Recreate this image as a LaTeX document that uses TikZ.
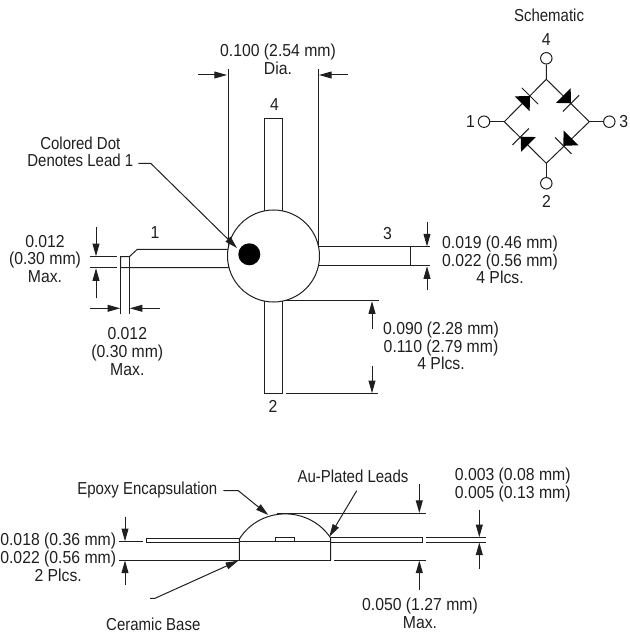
\documentclass[tikz,border=0pt]{standalone}
\usepackage{fontspec}
\setmainfont[FakeStretch=0.91]{Liberation Sans}
\newfontfamily\wordfont[FakeStretch=0.865]{Liberation Sans}
\usepackage{tikz}
\usetikzlibrary{arrows.meta}
\definecolor{inkdark}{gray}{.12}
\newcommand{\leadwidth}{0.75pt}
\newcommand{\termsize}{8.6pt}
\tikzset{
    common/.style={draw=inkdark, line width=\leadwidth},
    dimarrow/.style={common, -{Triangle[length=9.5pt, width=5.2pt]}},
    extline/.style={common},
    label/.style={text=inkdark, inner sep=0pt, align=center, font=\fontsize{13}{13.3}\selectfont},
    wordlabel/.style={label, font=\wordfont\fontsize{13}{13.3}\selectfont},
    term/.style={common, circle, fill=white, inner sep=0pt, minimum size=\termsize}
}
\begin{document}
\begin{tikzpicture}[x=0.75pt, y=-0.75pt]
      \useasboundingbox (0,0) rectangle (629,634);

      % top view
      \draw[common] (264,211) -- (264,118.3) -- (282.7,118.3) -- (282.7,211);
      \draw[common] (264,300) -- (264,393.7) -- (282.7,393.7) -- (282.7,300);
      \draw[common] (316,247) -- (410.7,247) -- (410.7,265.7) -- (316,265.7);
      \draw[common] (232,249.3) -- (137.3,249.3) -- (129.3,256.7) -- (120.7,256.7) -- (120.7,267.7) -- (232,267.7);
      \draw[extline] (228,69) -- (228,256);
      \draw[extline] (318,69) -- (318,256);
      \draw[common, fill=white] (273.5,256) circle [radius=46];
      \fill[black] (249.3,254.3) circle [radius=11];

      \node[label] (pin4) at (274.5,105) {4};
      \node[label] (pin3) at (387.6,234) {3};
      \node[label] (pin2) at (273,406) {2};
      \node[label] (pin1) at (155,233) {1};

      % diameter
      \node[label] (dia) at (278,59) {0.100 (2.54 mm)\\Dia.};
      \draw[dimarrow] (198,75) -- (227,75);
      \draw[dimarrow] (348,75) -- (319,75);

      % colored dot
      \node[wordlabel] (dot) at (80.3,151.7) {Colored Dot\\Denotes Lead 1};
      \coordinate (dot-elbow) at (138.3,163.3);
      \coordinate (dot-bend) at (150.7,163.3);
      \coordinate (dot-tip) at (237,248);
      \draw[dimarrow] (dot-elbow) -- (dot-bend) -- (dot-tip);

      % lead 3 thickness
      \draw[extline] (410.7,247) -- (430,247);
      \draw[extline] (410.7,265.7) -- (430,265.7);
      \draw[dimarrow] (427,222) -- (427,246.5);
      \draw[dimarrow] (427,290) -- (427,266.2);
      \node[label] (thick) at (500,260) {0.019 (0.46 mm)\\0.022 (0.56 mm)\\4 Plcs.};

      % lead 2 length
      \draw[extline] (286,300.7) -- (379,300.7);
      \draw[extline] (286,393.7) -- (378,393.7);
      \draw[dimarrow] (372,329) -- (372,301.2);
      \draw[dimarrow] (372,366) -- (372,393.2);
      \node[label] (length) at (441,346) {0.090 (2.28 mm)\\0.110 (2.79 mm)\\4 Plcs.};

      % lead 1 tip
      \draw[extline] (90,256.7) -- (116.7,256.7);
      \draw[extline] (90,267.7) -- (116.7,267.7);
      \draw[extline] (120.7,256.7) -- (120.7,314);
      \draw[extline] (129.3,256.7) -- (129.3,314);
      \draw[dimarrow] (96,226.7) -- (96,256.2);
      \draw[dimarrow] (96,298.3) -- (96,268.2);
      \draw[dimarrow] (90,308.3) -- (120.2,308.3);
      \draw[dimarrow] (160,308.3) -- (129.8,308.3);
      \node[label] (tip-v) at (45,259) {0.012\\(0.30 mm)\\Max.};
      \node[label] (tip-h) at (127.3,351.5) {0.012\\(0.30 mm)\\Max.};

      % schematic
      \node[wordlabel] (sch) at (549,15.7) {Schematic};
      \node[label] (s4) at (546.3,40) {4};
      \node[label] (s1) at (470.5,122) {1};
      \node[label] (s3) at (623.7,122) {3};
      \node[label] (s2) at (546.5,201) {2};
      \node[term] (t4) at (546.3,58.3) {};
      \node[term] (t3) at (609.3,121.7) {};
      \node[term] (t2) at (546.3,183.3) {};
      \node[term] (t1) at (484,121.7) {};
      \coordinate (top) at (546.3,79.3);
      \coordinate (right) at (589.3,121.7);
      \coordinate (bottom) at (546.3,163.3);
      \coordinate (left) at (504.3,121.7);
      \draw[common] (t4) -- (top) -- (right) -- (bottom) -- (left) -- (top);
      \draw[common] (t3) -- (right);
      \draw[common] (t2) -- (bottom);
      \draw[common] (t1) -- (left);
      \foreach \barx/\bary/\ang in {530/96/45, 571/103.3/-45, 563.3/145.7/-135, 520.7/136.7/135} {
          \begin{scope}[shift={(\barx,\bary)}, rotate=\ang]
              \fill[black] (0,0) -- (-11,10.5) -- (-11,-10.5) -- cycle;
              \draw[common] (0,-11.5) -- (0,11.5);
          \end{scope}
      }

      % side view
      \draw[common] (146.7,538.3) rectangle (239,542);
      \draw[common] (331,537.7) -- (422.3,537.7) -- (422.3,542) -- (331,542);
      \draw[common] (239.3,560) -- (239.3,539) .. controls (260.5,505.7) and (309,505.7) .. (330.7,538) -- (330.7,560);
      \draw[common] (239.3,541.7) -- (330.7,541.7);
      \draw[common] (275.3,537.7) rectangle (294,541.7);

      \draw[extline] (119.3,541.7) -- (143,541.7);
      \draw[extline] (119.3,560) -- (330.7,560);
      \draw[extline] (334,560) -- (425.7,560);
      \draw[extline] (276.7,513.5) -- (425.7,513.5);
      \draw[extline] (425.7,537.7) -- (485.7,537.7);
      \draw[extline] (425.7,542) -- (485.7,542);
      \draw[dimarrow] (125,516.7) -- (125,541.2);
      \draw[dimarrow] (125,585) -- (125,560.5);
      \draw[dimarrow] (419.3,484) -- (419.3,513);
      \draw[dimarrow] (419.3,590) -- (419.3,560.5);
      \draw[dimarrow] (479.3,510) -- (479.3,537.2);
      \draw[dimarrow] (479.3,569) -- (479.3,542.5);

      \node[wordlabel] (epoxy) at (147.3,490) {Epoxy Encapsulation};
      \node[wordlabel] (ceramic) at (153.3,624) {Ceramic Base};
      \node[wordlabel] (plated) at (353,476.7) {Au-Plated Leads};
      \node[label] (height) at (58.2,557.5) {0.018 (0.36 mm)\\0.022 (0.56 mm)\\2 Plcs.};
      \node[label] (foil) at (512.7,485) {0.003 (0.08 mm)\\0.005 (0.13 mm)};
      \node[label] (base) at (420,613.5) {0.050 (1.27 mm)\\Max.};
      \coordinate (epoxy-a) at (223.3,490.7);
      \coordinate (epoxy-b) at (238.3,490.7);
      \coordinate (epoxy-tip) at (268.3,515);
      \coordinate (ceramic-a) at (150,598.3);
      \coordinate (ceramic-b) at (155,598.3);
      \coordinate (ceramic-tip) at (238.3,560.7);
      \coordinate (plated-a) at (356.7,490.7);
      \coordinate (plated-tip) at (329.3,536.7);
      \draw[dimarrow] (epoxy-a) -- (epoxy-b) -- (epoxy-tip);
      \draw[dimarrow] (ceramic-a) -- (ceramic-b) -- (ceramic-tip);
      \draw[dimarrow] (plated-a) -- (plated-tip);

  \end{tikzpicture}
\end{document}
